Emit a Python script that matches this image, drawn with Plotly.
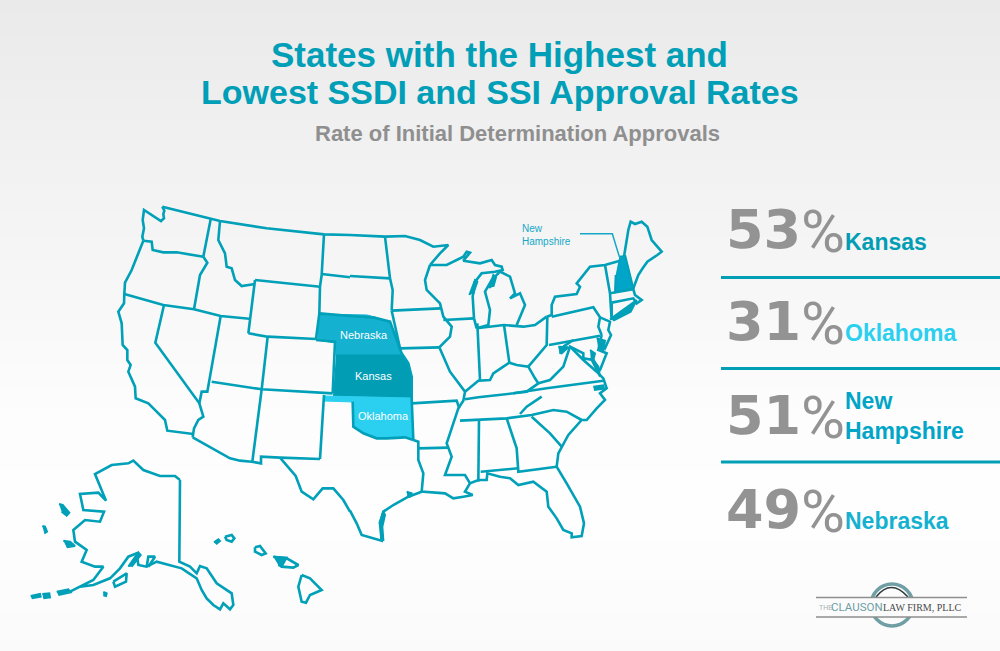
import plotly.graph_objects as go

# ---------- content ----------
TITLE_LINES = ["States with the Highest and", "Lowest SSDI and SSI Approval Rates"]
SUBTITLE = "Rate of Initial Determination Approvals"
STATES = ["Kansas", "Oklahoma", "New<br>Hampshire", "Nebraska"]
RATES = ["53", "31", "51", "49"]
STATE_COLORS = ["#009db5", "#2bcff0", "#00a5c8", "#14b1d0"]
RATE_Y = [229, 321, 415, 509]
NAME_Y = [241.5, 333, 415.5, 521]
RULE_Y = [277.5, 368.5, 462]

# background grey levels read down the picture
BG_Y = [0, 90, 170, 250, 330, 420, 520, 600, 651]
BG_GREY = [234, 238, 242, 245, 249, 253, 254, 252, 250]

LINE = "#00a0b8"

# ---------- outlines (crop units: 3 per pixel) ----------
# West crop: origin (0,190)
WEST = dict(
    north=[(487,50),(560,68),(632,88),(660,93),(800,115),(972,133),(1050,135)],
    wa_coast=[(487,50),(493,62),(490,72),(492,85),(483,93),(470,85),(445,70),(432,60),(428,90),(432,115),(427,140),(430,152)],
    or_wa=[(430,152),(455,155),(458,180),(490,187),(530,187),(570,193),(610,200)],
    wa_id=[(632,88),(610,200)],
    or_id=[(610,200),(622,218),(600,255),(582,358)],
    or_coast=[(430,152),(415,190),(395,240),(375,278),(373,312)],
    or_south=[(373,312),(490,345),(582,358),(662,378),(748,386)],
    ca_coast=[(373,312),(372,340),(355,365),(365,400),(368,465),(382,480),(382,510),(392,525),(385,545),(405,590),(407,625),(445,640),(470,665),(495,690),(502,722),(580,732)],
    nv_ca=[(492,345),(466,458),(598,640),(610,680),(595,690),(582,715),(578,742)],
    nv_ut=[(662,378),(628,575),(622,605),(605,605),(598,640)],
    az_north=[(635,575),(785,598),(998,610)],
    az_south=[(578,742),(690,805),(720,812),(755,815),(783,820),(783,800),(840,803),(960,807)],
    az_nm=[(785,598),(757,815)],
    nm_east=[(972,615),(960,807)],
    ut_co=[(803,440),(785,598)],
    wy_south=[(745,430),(803,440),(948,447)],
    co_top=[(948,450),(1005,455),(998,610)],
    wy_west=[(765,270),(745,430)],
    wy_top=[(765,270),(960,290)],
    wy_east=[(972,133),(965,255),(960,290),(958,370),(948,447)],
    ne_top=[(958,370),(1050,378)],
    id_mt=[(660,93),(655,150),(675,190),(680,230),(695,235),(705,270),(725,288),(765,282)],
    nd_sd=[(965,252),(1050,262)],
    tx_west=[(840,803),(887,858),(905,905),(940,928),(968,895),(1000,895),(1030,930),(1050,965)],
    alaska=[(540,870),(538,1115),(570,1130),(590,1150),(600,1128),(620,1135),(650,1180),(695,1210),(700,1245),(690,1258),(670,1240),(660,1258),(640,1245),(620,1225),(605,1200),(590,1165),(545,1135),(470,1115),(440,1130),(415,1125),(410,1090),(385,1100),(360,1135),(330,1165),(280,1185),(240,1190),(210,1205),(280,1170),(310,1130),(285,1130),(245,1115),(260,1080),(225,1055),(220,1020),(255,990),(300,995),(312,965),(250,960),(240,912),(295,908),(318,932),(285,852),(335,825),(385,820),(400,812),(430,840),(480,858),(525,858),(540,870)],
    kodiak=[(340,1175),(380,1150),(378,1175),(345,1190),(340,1175)],
    ak_bay=[(440,1130),(445,1100),(465,1100),(445,1130)],
    kauai=[(675,1040),(695,1035),(703,1045),(695,1055),(680,1050),(675,1040)],
    oahu=[(765,1072),(780,1068),(797,1090),(785,1095),(765,1085),(765,1072)],
    maui=[(820,1100),(860,1105),(895,1125),(880,1133),(845,1130),(835,1115)],
    big_island=[(905,1155),(930,1165),(965,1200),(930,1215),(918,1238),(905,1235),(895,1190),(905,1155)],
)
WEST_BLOBS = [
    [(92,1218),(120,1212),(122,1220),(95,1225)],
    [(127,1212),(148,1210),(150,1222),(130,1225)],
    [(170,1205),(205,1198),(212,1207),(175,1215)],
    [(177,942),(188,945),(208,968),(200,977),(185,965)],
    [(127,1008),(135,1010),(141,1025),(133,1030)],
    [(190,1052),(210,1055),(225,1068),(200,1072)],
    [(310,1206),(320,1210),(318,1218),(310,1216)],
    [(385,1130),(415,1087),(422,1095),(395,1130)],
    [(642,1057),(655,1048),(660,1053),(648,1063)],
    [(820,1100),(860,1103),(845,1130),(835,1125)],
]

# East crop: origin (350,190)
EAST = dict(
    north=[(0,135),(105,140),(165,138),(210,150),(250,170),(295,165),(270,190),(240,225)],
    mn_dak=[(105,140),(120,265),(128,300),(125,362)],
    nd_sd=[(0,258),(120,265)],
    ne_ks_east=[(0,378),(75,383),(120,395),(150,472),(155,490),(175,520),(185,560),(185,625),(190,750)],
    ok_south=[(190,750),(165,742),(110,745),(80,745),(40,730),(10,710),(8,635)],
    mn_south=[(125,362),(272,355)],
    mn_wi=[(240,225),(225,270),(230,300),(270,340),(280,380),(305,410),(300,440),(268,472),(300,545),(345,605),(340,632),(325,655),(300,730),(290,760),(295,773),(305,800),(285,855),(345,855),(360,880)],
    ia_west=[(125,362),(150,475)],
    ia_south=[(150,475),(268,472)],
    wi_il=[(280,390),(372,385)],
    mo_south=[(185,640),(320,632),(328,655)],
    ar_south=[(190,750),(205,755),(205,775),(295,773)],
    la_tx=[(205,775),(205,810),(220,850),(215,905),(285,910),(310,925),(340,920),(368,915),(345,905),(360,880),(385,870),(410,870),(412,850),(450,860),(480,865),(505,885),(550,875),(590,905),(595,950),(620,985),(640,1020),(665,1030),(665,1042),(695,1038),(702,1000),(690,950),(650,880),(620,830),(625,790),(635,770),(655,735),(695,690),(710,690),(740,655),(765,630),(750,610),(770,595),(760,565),(740,545),(700,510),(660,470)],
    tx_coast=[(215,905),(175,920),(130,945),(100,965),(90,1000),(95,1052),(35,1035),(20,1000),(0,962)],
    ms_north=[(330,692),(470,685),(545,675),(565,670),(610,660),(650,665),(695,690)],
    ms_al=[(387,690),(385,875)],
    al_ga=[(470,685),(500,775),(505,845),(620,830)],
    al_south=[(392,845),(505,835)],
    ga_sc=[(545,680),(600,730),(635,770)],
    tn_nc=[(575,620),(530,650),(510,672)],
    tn_top=[(345,628),(385,622),(490,610),(590,595),(760,572)],
    ohio_river=[(345,605),(385,572),(420,570),(430,550),(460,530),(478,518),(500,525),(535,530),(555,565),(565,580),(530,605),(490,610)],
    wv_va=[(565,580),(600,570),(640,530),(660,470),(700,490),(700,505),(730,510),(750,545)],
    wv_oh=[(535,530),(590,465),(592,380)],
    md_north=[(597,465),(750,437)],
    wv_top=[(640,470),(670,450)],
    pa=[(605,380),(730,352),(750,382),(745,410),(755,435)],
    delmarva=[(755,435),(745,480),(770,490),(750,540)],
    nj=[(750,382),(780,395),(775,420),(783,435),(765,475),(745,450)],
    oh_north=[(380,415),(462,405),(520,410),(555,405),(590,380)],
    oh_in=[(462,405),(478,518)],
    in_il=[(382,400),(390,570)],
    lower_mi=[(380,415),(415,405),(420,360),(405,305),(425,270),(450,245),(480,260),(495,310),(480,325),(510,310),(525,345),(500,405)],
    up=[(240,225),(290,225),(340,200),(350,185),(360,188),(340,212),(390,220),(425,210),(435,225),(455,230),(458,240),(435,245),(395,250),(375,275),(370,310)],
    wi_lake=[(372,385),(368,320),(375,275)],
    lake_il=[(372,385),(380,415)],
    ny=[(590,380),(605,375),(605,345),(615,320),(680,312),(690,290),(680,280),(720,230),(765,225),(810,212)],
    ny_vt=[(765,225),(780,310),(785,390)],
    ma=[(780,310),(850,298),(855,315),(875,330),(860,340),(850,325),(785,338),(785,380)],
    maine=[(822,200),(835,120),(842,95),(855,102),(875,95),(892,110),(905,150),(935,185),(922,195),(892,215),(878,235),(865,255),(850,295)],
)
EAST_BLOBS = [
    [(358,315),(375,270),(382,275),(370,310)],
    [(418,295),(430,255),(438,262),(430,290)],
    [(625,470),(655,472),(635,490),(628,488)],
    [(740,445),(765,452),(760,482),(745,478)],
    [(720,480),(735,490),(730,510),(745,530),(750,560),(735,530),(722,505)],
    [(730,590),(760,586),(762,596),(732,600)],
    [(780,388),(850,338),(860,330),(842,365),(790,392)],
    [(170,905),(185,910),(180,920),(172,918)],
    [(88,1000),(100,965),(105,975),(97,1010),(100,1050),(92,1050)],
]
NH_LEADER = [(690,131),(787,131),(808,200)]

# Filled states: page pixels
NEBRASKA = [(319,314),(367,315),(375,317),(390,322),(400,347),(402,355),(336,356),(336,343),(317,340)]
KANSAS = [(336,355),(402,355),(408,363),(412,377),(412,398),(333,396)]
OKLAHOMA = [(324,396),(412,398),(413,440),(405,437),(387,438),(377,438),(363,433),(353,427),(353,402),(324,401)]
NEW_HAMPSHIRE_EAST = [(808,200),(826,198),(850,295),(795,307),(797,255)]

def wx(p): return [a / 3 for a, _ in p]
def ey(p): return [190 + b / 3 for _, b in p]
def ex(p): return [350 + a / 3 for a, _ in p]

fig = go.Figure()
fig.add_trace(go.Heatmap(x=[0, 1000], y=BG_Y, z=[[g, g] for g in BG_GREY], zmin=225, zmax=255,
                         colorscale=[[0, "rgb(225,225,225)"], [1, "rgb(255,255,255)"]],
                         showscale=False, zsmooth="best", hoverinfo="skip"))

def poly(xs, ys, color, line_color=None, w=1):
    fig.add_trace(go.Scatter(x=xs, y=ys, mode="lines", fill="toself", fillcolor=color,
                             line=dict(color=line_color or color, width=w), hoverinfo="skip"))

for pts, c in [(NEBRASKA, STATE_COLORS[3]), (KANSAS, STATE_COLORS[0]), (OKLAHOMA, STATE_COLORS[1])]:
    poly([p[0] for p in pts], [p[1] for p in pts], c)
poly(ex(NEW_HAMPSHIRE_EAST), ey(NEW_HAMPSHIRE_EAST), STATE_COLORS[2], LINE, 2)

def line(xs, ys, w=2.6, color=LINE):
    fig.add_trace(go.Scatter(x=xs, y=ys, mode="lines", line=dict(color=color, width=w), hoverinfo="skip"))

for pts in WEST.values():
    line(wx(pts), ey(pts))
for pts in EAST.values():
    line(ex(pts), ey(pts))
for pts in WEST_BLOBS:
    poly(wx(pts), ey(pts), LINE, LINE, 2)
for pts in EAST_BLOBS:
    poly(ex(pts), ey(pts), LINE, LINE, 2)
line(ex(NH_LEADER), ey(NH_LEADER), 1.5, "#14a8c8")

SANS = "Liberation Sans"
ann = []
def text(x, y, s, size, color, bold=False, anchor="left", family=SANS):
    ann.append(dict(x=x, y=y, xref="x", yref="y", text=f"<b>{s}</b>" if bold else s, showarrow=False,
                    xanchor=anchor, yanchor="middle", align=anchor,
                    font=dict(family=family, size=size, color=color)))

text(499.5, 54, TITLE_LINES[0], 35, "#009fb7", True, "center")
text(500, 92, TITLE_LINES[1], 34, "#009fb7", True, "center")
text(517.5, 133, SUBTITLE, 22, "#8f8f8f", True, "center")

for r, n, c, ry, ny in zip(RATES, STATES, STATE_COLORS, RATE_Y, NAME_Y):
    text(724, ry, r, 54, "#939393", True, family="DejaVu Sans")
    text(799, ry + 2, "%", 60, "#939393", False, family="Roboto")
    text(843, ny, n, 23, c, True)

text(364, 335, "Nebraska", 11, "white", anchor="center")
text(373, 376, "Kansas", 11, "white", anchor="center")
text(383, 416, "Oklahoma", 11, "white", anchor="center")
text(520, 235, "New<br>Hampshire", 10, "#14a8c8")

text(817, 607, "THE", 7, "#a9b4b6")
text(829, 607, "CLAUSON", 11.5, "#6f9ea5", family="Roboto")
text(881, 607, "LAW FIRM, PLLC", 10, "#4a4a4a", family="Liberation Serif")

shapes = [dict(type="line", x0=721, x1=1000, y0=y, y1=y, line=dict(color="#009fb5", width=3)) for y in RULE_Y]
shapes += [
    dict(type="circle", x0=871, x1=913, y0=584, y1=626, line=dict(color="#6f9ea5", width=3.5)),
    dict(type="path", path="M 876 597 Q 891 578 908 597", line=dict(color="#2f3a3d", width=1.5)),
    dict(type="rect", x0=816, x1=967, y0=597, y1=617, fillcolor="#fbfbfb", line=dict(width=0)),
    dict(type="line", x0=816, x1=967, y0=597.5, y1=597.5, line=dict(color="#8e8e8e", width=1.5)),
    dict(type="line", x0=816, x1=967, y0=617, y1=617, line=dict(color="#8e8e8e", width=1.5)),
]

fig.update_layout(width=1000, height=651, margin=dict(l=0, r=0, t=0, b=0), showlegend=False,
                  paper_bgcolor="white", plot_bgcolor="white", annotations=ann, shapes=shapes,
                  xaxis=dict(range=[0, 1000], visible=False, fixedrange=True),
                  yaxis=dict(range=[651, 0], visible=False, fixedrange=True))
fig.write_html("out.html", config=dict(displayModeBar=False),
               post_script="document.body.style.margin='0';document.documentElement.style.overflow='hidden';")
